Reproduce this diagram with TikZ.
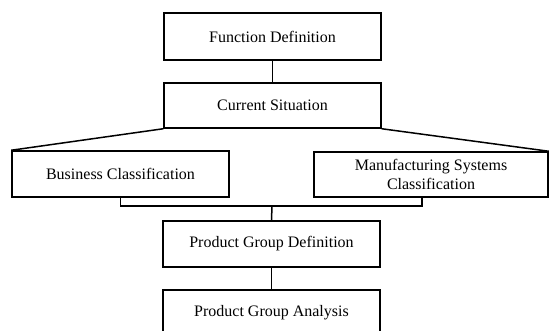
\documentclass[tikz,border=0pt]{standalone}
\usepackage{fontspec}
\setmainfont{Liberation Serif}
\begin{document}
\begin{tikzpicture}[x=1pt,y=-1pt,
  box/.style={draw,line width=1.5pt,rectangle,minimum width=217pt,minimum height=46pt,
    inner sep=0pt,align=center,font=\fontsize{16}{19}\selectfont},
  conn/.style={line width=1.5pt}]
\useasboundingbox (0,0) rectangle (549,331);
\clip (0,0) rectangle (549,331);
\node[box,minimum height=47pt] (fd) at (272.5,36.5) {Function Definition};
\node[box,minimum height=45pt] (cs) at (272.5,105.5) {Current Situation};
\node[box] (bc) at (120.5,174) {Business Classification};
\node[box,minimum width=234pt,minimum height=45pt] (ms) at (431,174.5) {Manufacturing Systems\\Classification};
\node[box] (pgd) at (271.5,244) {Product Group Definition};
\node[box] (pga) at (271.5,313) {Product Group Analysis};
\coordinate (j) at (272,206);
\draw[conn] (fd.south) -- (cs.north);
\draw[conn] (cs.south west) -- (bc.north west);
\draw[conn] (cs.south east) -- (ms.north east);
\draw[conn] (bc.south) |- (j) -| ([xshift=-9pt]ms.south);
\draw[conn] (j) -- (pgd.north);
\draw[conn] (pgd.south) -- (pga.north);
\end{tikzpicture}
\end{document}
